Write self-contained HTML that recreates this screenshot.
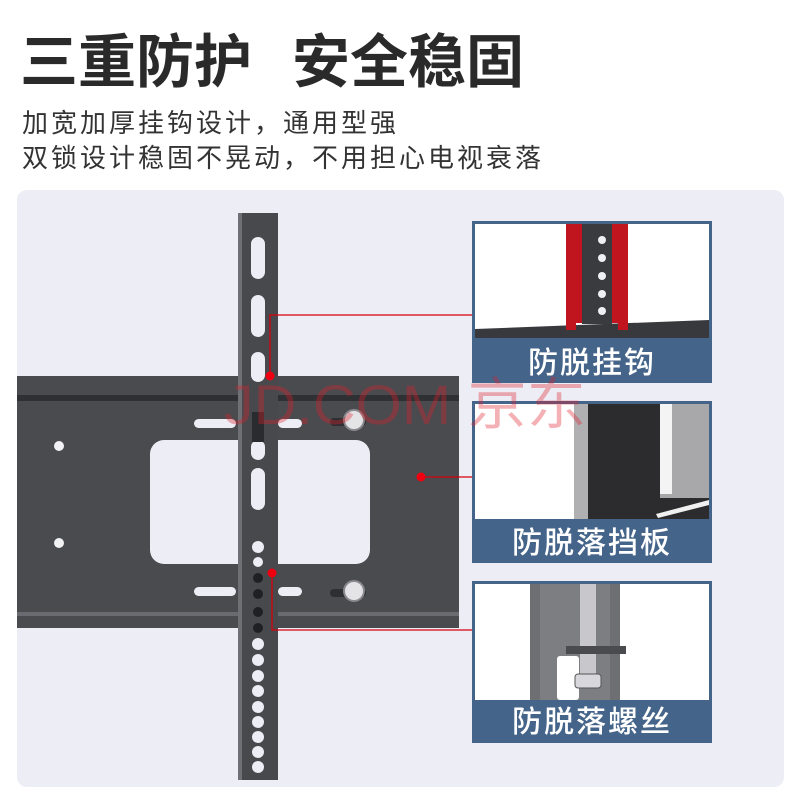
<!DOCTYPE html>
<html><head><meta charset="utf-8"><style>
html,body{margin:0;padding:0;background:#fff;}
svg{display:block;}
text{font-family:"Liberation Sans","Noto Sans CJK SC",sans-serif;}
</style></head><body>
<svg width="800" height="800" viewBox="0 0 800 800" xmlns="http://www.w3.org/2000/svg">
<rect width="800" height="800" fill="#fff"/>
<text x="20" y="82" font-size="58" font-weight="bold" fill="#2a2a2a">三重防护</text>
<text x="292" y="82" font-size="58" font-weight="bold" fill="#2a2a2a">安全稳固</text>
<text x="22" y="132" font-size="26" fill="#333" letter-spacing="3">加宽加厚挂钩设计，通用型强</text>
<text x="22" y="167" font-size="26" fill="#333" letter-spacing="3">双锁设计稳固不晃动，不用担心电视衰落</text>
<rect x="17" y="190" width="767" height="597" rx="10" fill="#ecedf5"/>
<path d="M17 376 H459 V628 H17 Z" fill="#4a4b4f"/>
<rect x="17" y="395" width="442" height="6" fill="#2f3033"/>
<rect x="17" y="612" width="442" height="4" fill="#6a6b70"/>
<rect x="150" y="440" width="220" height="124" rx="14" fill="#ecedf5"/>
<circle cx="59" cy="446" r="5" fill="#f2f2f4"/>
<circle cx="59" cy="543" r="5" fill="#f2f2f4"/>
<rect x="194" y="419" width="42" height="9" rx="4.5" fill="#ecedf5"/>
<rect x="278" y="419" width="24" height="9" rx="4.5" fill="#ecedf5"/>
<rect x="194" y="587" width="42" height="9" rx="4.5" fill="#ecedf5"/>
<rect x="278" y="587" width="24" height="9" rx="4.5" fill="#ecedf5"/>
<rect x="330" y="418" width="36" height="8" rx="4" fill="#2e2f32"/>
<circle cx="354" cy="420" r="10" fill="#e4e4e6" stroke="#8a8a8e" stroke-width="2"/>
<rect x="330" y="589" width="36" height="8" rx="4" fill="#2e2f32"/>
<circle cx="354" cy="591" r="10" fill="#e4e4e6" stroke="#8a8a8e" stroke-width="2"/>
<rect x="238" y="213" width="40" height="567" fill="#48494d"/>
<rect x="238" y="213" width="4" height="567" fill="#6e7076"/>
<g fill="#ecedf5">
<rect x="251" y="237" width="14" height="42" rx="7"/>
<rect x="251" y="295" width="14" height="42" rx="7"/>
<rect x="251" y="352" width="14" height="30" rx="7"/>
<rect x="251" y="440" width="14" height="20" rx="7"/>
<rect x="251" y="468" width="14" height="42" rx="7"/>
<circle cx="258" cy="547" r="6"/>
<circle cx="258" cy="562" r="5"/>
<circle cx="258" cy="644" r="6"/><circle cx="258" cy="660" r="6"/><circle cx="258" cy="676" r="6"/>
<circle cx="258" cy="691" r="6"/><circle cx="258" cy="707" r="6"/><circle cx="258" cy="722" r="6"/>
<circle cx="258" cy="737" r="6"/><circle cx="258" cy="752" r="6"/><circle cx="258" cy="767" r="6"/>
</g>
<g fill="#1f2022"><circle cx="258" cy="578" r="5"/><circle cx="258" cy="594" r="5"/><circle cx="258" cy="612" r="5"/><circle cx="258" cy="628" r="5"/></g>
<rect x="252" y="412" width="12" height="30" fill="#2a2b2e"/>
<g stroke="#d8000c" stroke-width="1.3" fill="none">
<polyline points="270,376 270,315 472,315"/>
<line x1="421" y1="477" x2="472" y2="477"/>
<polyline points="272,573 272,630 472,630"/>
</g>
<g fill="#ee0010"><circle cx="270" cy="376" r="4.5"/><circle cx="421" cy="477" r="4.5"/><circle cx="272" cy="573" r="4.5"/></g>
<rect x="472" y="221" width="240" height="162" fill="#45648a"/>
<rect x="475" y="224" width="234" height="114" fill="#fff"/>
<path d="M475 329 L709 320 V338 H475 Z" fill="#38393d"/>
<rect x="582" y="224" width="30" height="100" fill="#3a3b3f"/>
<g fill="#f0f0f2"><circle cx="602" cy="240" r="4"/><circle cx="602" cy="258" r="4"/><circle cx="602" cy="276" r="4"/><circle cx="602" cy="294" r="4"/><circle cx="602" cy="311" r="4"/></g>
<path d="M566 224 H582 V323 H576 V330 H566 Z" fill="#c0151f"/>
<path d="M612 224 H628 V330 H618 V323 H612 Z" fill="#c0151f"/>
<text x="592" y="373" font-size="30" font-weight="500" fill="#fff" text-anchor="middle" letter-spacing="2">防脱挂钩</text>
<rect x="472" y="401" width="240" height="162" fill="#45648a"/>
<rect x="475" y="404" width="234" height="115" fill="#fff"/>
<rect x="574" y="404" width="14" height="115" fill="#b0b0b2"/>
<rect x="588" y="404" width="121" height="115" fill="#2c2c2e"/>
<rect x="660" y="404" width="49" height="94" fill="#a8a8aa"/>
<rect x="660" y="404" width="12" height="90" fill="#f4f4f4"/>
<path d="M656 514 L709 500 L709 505 L658 518 Z" fill="#f0f0f0"/>
<text x="592" y="553" font-size="30" font-weight="500" fill="#fff" text-anchor="middle" letter-spacing="2">防脱落挡板</text>
<rect x="472" y="581" width="240" height="162" fill="#45648a"/>
<rect x="475" y="584" width="234" height="116" fill="#fff"/>
<rect x="530" y="584" width="90" height="116" fill="#6e6f72"/>
<rect x="540" y="584" width="70" height="116" fill="#7d7e81"/>
<rect x="557" y="656" width="22" height="44" rx="3" fill="#fff"/>
<rect x="580" y="584" width="16" height="90" fill="#c8c8cc"/>
<rect x="575" y="674" width="26" height="14" rx="3" fill="#d8d8dc" stroke="#555" stroke-width="1"/>
<rect x="566" y="646" width="60" height="8" fill="#4a4b4e"/>
<text x="592" y="732" font-size="30" font-weight="500" fill="#fff" text-anchor="middle" letter-spacing="2">防脱落螺丝</text>
<text x="224" y="424" font-size="56" fill="#e0202a" fill-opacity="0.35" textLength="362" lengthAdjust="spacingAndGlyphs">JD.COM 京东</text>
</svg>
</body></html>
